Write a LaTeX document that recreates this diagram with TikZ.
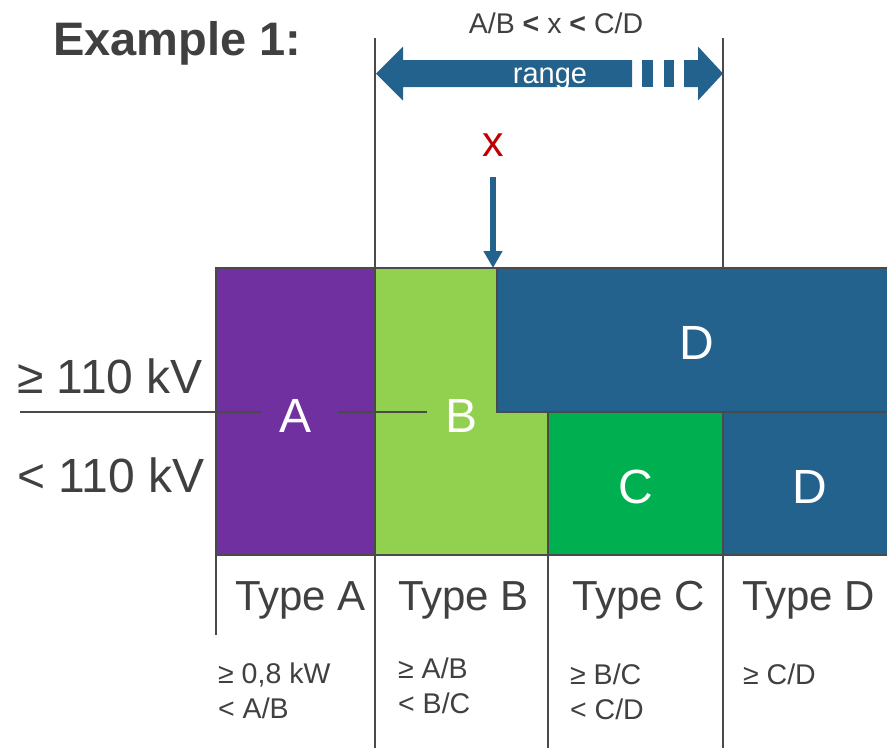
\documentclass[tikz,border=0pt]{standalone}
\usepackage{fontspec}
\setmainfont{Liberation Sans}
\usetikzlibrary{arrows.meta}
\definecolor{txtgray}{HTML}{404040}
\definecolor{linegray}{HTML}{4A4A4A}
\definecolor{cpurple}{HTML}{7030A0}
\definecolor{clgreen}{HTML}{92D050}
\definecolor{cgreen}{HTML}{00B050}
\definecolor{cblue}{HTML}{24628E}
\definecolor{cred}{HTML}{C00000}
\newcommand\fsz[1]{\fontsize{#1}{#1}\selectfont}
\begin{document}
\begin{tikzpicture}[x=1pt,y=-1pt,
  lbl/.style={inner sep=0pt, text=txtgray},
  boxlbl/.style={inner sep=0pt, text=white, font=\fsz{48}, anchor=base},
  typelbl/.style={inner sep=0pt, text=txtgray, font=\fsz{42}, anchor=base west},
  condlbl/.style={inner sep=0pt, text=txtgray, font=\fsz{28.5}, anchor=base west},
  kvlbl/.style={inner sep=0pt, text=txtgray, font=\fsz{48}, anchor=base west},
  field/.style={draw=linegray, line width=1.2pt},
  rule/.style={draw=linegray, line width=1.2pt},
]
\useasboundingbox (0,0) rectangle (887,748);

% coloured fields
\path[field, fill=cpurple] (216,268) rectangle (375,555);
\path[field, fill=clgreen] (375,268) rectangle (548,555);
\path[field, fill=cblue] (497,268) rectangle (900,412);
\path[field, fill=cgreen] (548,412) rectangle (723,555);
\path[field, fill=cblue] (723,412) rectangle (900,555);

% lines
\draw[rule] (20,412) -- (262,412);
\draw[rule] (338,412) -- (427,412);
\draw[rule] (375,38) -- (375,268);
\draw[rule] (723,38) -- (723,268);
\draw[rule] (375,555) -- (375,748);
\draw[rule] (548,555) -- (548,748);
\draw[rule] (723,555) -- (723,748);
\draw[rule] (216,555) -- (216,635);

% range arrow
\fill[cblue] (376,73.5) -- (403,46.5) -- (403,60) -- (632,60) -- (632,87) -- (403,87) -- (403,100.5) -- cycle;
\fill[cblue] (642,60) rectangle (653,87);
\fill[cblue] (664,60) rectangle (674,87);
\fill[cblue] (684,60) -- (698,60) -- (698,46.5) -- (723,73.5) -- (698,100.5) -- (698,87) -- (684,87) -- cycle;
\node[inner sep=0pt, text=white, font=\fsz{29}, anchor=base] (range) at (550,83) {range};

% title and condition
\node[lbl, font=\bfseries\fsz{47}, anchor=base west] (title) at (53,55) {Example 1:};
\node[lbl, font=\fsz{28.5}, anchor=base] (cond) at (556,33) {A/B \textbf{<} x \textbf{<} C/D};

% x marker
\node[inner sep=0pt, text=cred, font=\fsz{43}, anchor=base] (xlbl) at (493,156) {x};
\coordinate (xstart) at (493,177);
\coordinate (xend) at (493,268);
\draw[cblue, line width=6pt, -{Triangle[width=18pt,length=17pt]}] (xstart) -- (xend);

% voltage labels
\node[kvlbl] (kvhi) at (17,393) {≥ 110 kV};
\node[kvlbl] (kvlo) at (17,492) {< 110 kV};

% box letters
\node[boxlbl] (la) at (296,432) {A};
\node[boxlbl] (lb) at (462,432) {B};
\node[boxlbl] (ld1) at (697,359) {D};
\node[boxlbl] (lc) at (636,503) {C};
\node[boxlbl] (ld2) at (810,503) {D};

% type labels
\node[typelbl] (ta) at (235,610) {Type A};
\node[typelbl] (tb) at (398,610) {Type B};
\node[typelbl] (tc) at (572,610) {Type C};
\node[typelbl] (td) at (742,610) {Type D};

% conditions
\node[condlbl] (ca1) at (218,683) {≥ 0,8 kW};
\node[condlbl] (ca2) at (218,718) {< A/B};
\node[condlbl] (cb1) at (398,678) {≥ A/B};
\node[condlbl] (cb2) at (398,713) {< B/C};
\node[condlbl] (cc1) at (570,684) {≥ B/C};
\node[condlbl] (cc2) at (570,719) {< C/D};
\node[condlbl] (cd1) at (743,684) {≥ C/D};
\end{tikzpicture}
\end{document}
